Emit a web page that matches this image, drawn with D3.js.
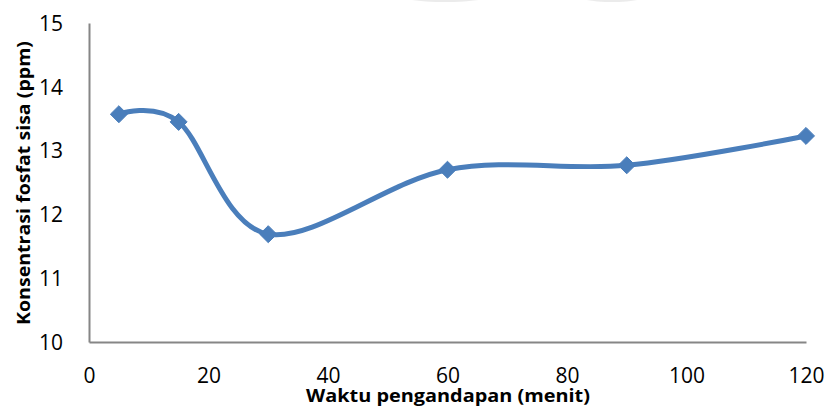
<!DOCTYPE html>
<html>
<head>
<meta charset="utf-8">
<script src="https://cdn.jsdelivr.net/npm/d3@7"></script>
<style>
  html, body { margin: 0; padding: 0; background: #fff; }
  svg { display: block; }
  text { font-family: "Open Sans", "Liberation Sans", sans-serif; fill: #000; }
</style>
</head>
<body>
<div id="chart"></div>
<script>
// Sampling time (minutes) and remaining phosphate concentration (ppm)
const waktu = [5, 15, 30, 60, 90, 120];
const konsentrasi = [13.57, 13.45, 11.69, 12.70, 12.77, 13.23];
const xTicks = [0, 20, 40, 60, 80, 100, 120];
const yTicks = [10, 11, 12, 13, 14, 15];
const xTitle = "Waktu pengandapan (menit)";
const yTitle = "Konsentrasi fosfat sisa (ppm)";

const W = 829, H = 407;
const margin = { left: 89, right: 23, top: 23, bottom: 65 };

const svg = d3.select("#chart").append("svg")
  .attr("width", W).attr("height", H);

// faint shading along the top edge
svg.append("ellipse").attr("cx", 445).attr("cy", -6).attr("rx", 50).attr("ry", 8)
  .attr("fill", "#e6e6e6").attr("opacity", 0.8);
svg.append("ellipse").attr("cx", 612).attr("cy", -6).attr("rx", 38).attr("ry", 8)
  .attr("fill", "#e6e6e6").attr("opacity", 0.8);

const x = d3.scaleLinear().domain([0, 120]).range([margin.left, W - margin.right]);
const y = d3.scaleLinear().domain([10, 15]).range([H - margin.bottom, margin.top]);

// axes without tick marks
const xAxis = d3.axisBottom(x).tickValues(xTicks).tickSize(0).tickPadding(0)
  .tickFormat(d3.format("d"));
const yAxis = d3.axisLeft(y).tickValues(yTicks).tickSize(0).tickPadding(0)
  .tickFormat(d3.format("d"));

const gx = svg.append("g").attr("transform", `translate(0,${y(10)})`).call(xAxis);
gx.select(".domain").attr("stroke", "#868686").attr("stroke-width", 2);
gx.selectAll("text").attr("font-size", 21).attr("dy", null).attr("y", 41)
  .style("font-family", "'Open Sans', sans-serif");

const gy = svg.append("g").attr("transform", `translate(${x(0)},0)`).call(yAxis);
gy.select(".domain").attr("stroke", "#868686").attr("stroke-width", 2);
gy.selectAll("text").attr("font-size", 21).attr("x", -26).attr("dy", "0.35em")
  .style("font-family", "'Open Sans', sans-serif");

// smoothed series line
const pts = waktu.map((t, i) => [t, konsentrasi[i]]);
const line = d3.line()
  .x(d => x(d[0])).y(d => y(d[1]))
  .curve(d3.curveCardinal.tension(0));

svg.append("path").datum(pts)
  .attr("d", line)
  .attr("fill", "none")
  .attr("stroke", "#4a7ebb")
  .attr("stroke-width", 5)
  .attr("stroke-linecap", "round");

// diamond markers
const diamond = d3.symbol().type(d3.symbolDiamond2).size(185);
svg.selectAll(".mk").data(pts).enter().append("path")
  .attr("class", "mk")
  .attr("d", diamond)
  .attr("transform", d => `translate(${x(d[0])},${y(d[1])})`)
  .attr("fill", "#4a7ebb")
  .attr("stroke", "#4a7ebb")
  .attr("stroke-width", 1);

// axis titles
svg.append("text")
  .attr("x", 448).attr("y", 402)
  .attr("text-anchor", "middle")
  .attr("font-size", 18).attr("font-weight", "bold")
  .attr("textLength", 284).attr("lengthAdjust", "spacingAndGlyphs")
  .text(xTitle);

svg.append("text")
  .attr("transform", "translate(30,183) rotate(-90)")
  .attr("text-anchor", "middle")
  .attr("font-size", 18).attr("font-weight", "bold")
  .attr("textLength", 284).attr("lengthAdjust", "spacingAndGlyphs")
  .text(yTitle);
</script>
</body>
</html>
